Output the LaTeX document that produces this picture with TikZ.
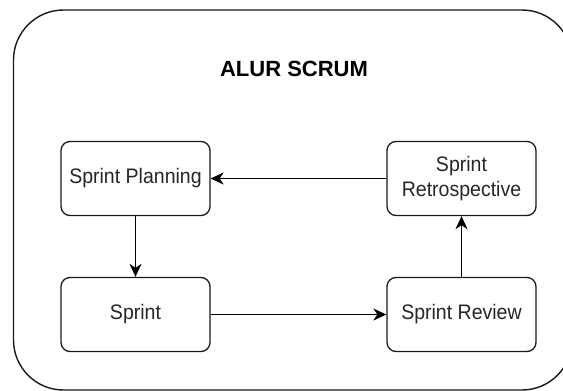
\documentclass[tikz,border=0pt]{standalone}
\usepackage{fontspec}
\setmainfont{Liberation Sans}
\newfontfamily\boxfont[FakeStretch=0.93]{Liberation Sans}
\usetikzlibrary{arrows.meta}
\begin{document}
\begin{tikzpicture}[x=1pt,y=-1pt,
  stepbox/.style={draw=black!90, line width=1.3pt, rounded corners=9pt, minimum width=149pt, minimum height=74pt, align=center, font=\boxfont\fontsize{21}{25}\selectfont, text=black!85, inner sep=0pt},
  flow/.style={draw=black, line width=1.3pt, -{Stealth[length=13pt,width=12pt,inset=4pt]}}]
\useasboundingbox (0,0) rectangle (563,391);
\clip (0,0) rectangle (563,391);
\draw[line width=1.4pt, draw=black!90, rounded corners=50pt] (13.5,10) rectangle (572,390);
\node[font=\bfseries\fontsize{22}{26}\selectfont, anchor=base, inner sep=0pt] (title) at (294,76.7) {ALUR SCRUM};
\node[stepbox] (plan) at (135.5,178.5) {Sprint Planning};
\node[stepbox] (retro) at (461.5,178.5) {Sprint\\Retrospective};
\node[stepbox] (sprint) at (135.5,314.5) {Sprint};
\node[stepbox] (review) at (461.5,314.5) {Sprint Review};
\draw[flow] (retro) -- (plan);
\draw[flow] (plan) -- (sprint);
\draw[flow] (sprint) -- (review);
\draw[flow] (review) -- (retro);
\end{tikzpicture}
\end{document}
